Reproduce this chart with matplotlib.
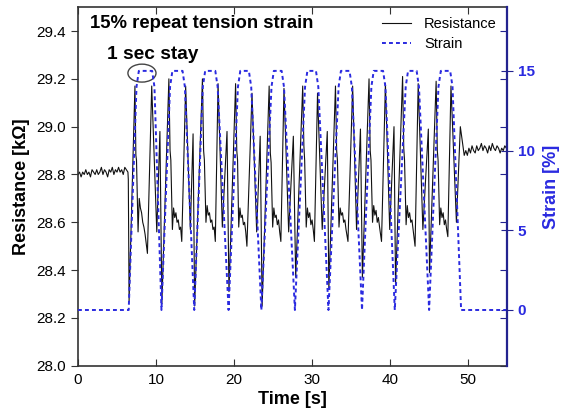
import matplotlib
matplotlib.use('Agg')
import matplotlib.pyplot as plt
from matplotlib.patches import Ellipse

plt.rcParams['font.family'] = ['Liberation Sans', 'DejaVu Sans']

# resistance trace [kOhm]
res_t = [0, 0.2, 0.4, 0.6, 0.8, 1.0, 1.2, 1.4, 1.6, 1.8, 2.0, 2.2, 2.4, 2.6, 2.8, 3.0,
         3.2, 3.4, 3.6, 3.8, 4.0, 4.2, 4.4, 4.6, 4.8, 5.0, 5.2, 5.4, 5.6, 5.8, 6.0, 6.2, 6.4,
         6.45, 6.55,
         7.3, 7.42, 7.5, 7.7, 7.85, 8.0, 8.15, 8.3, 8.45, 8.6, 8.75, 8.9, 9.45, 10.1, 10.5, 10.75,
         11.65, 11.8, 11.9, 12.1, 12.25, 12.4, 12.55, 12.7, 12.85, 13.0, 13.15, 13.3, 13.8, 14.4, 14.75, 14.95,
         15.95, 16.1, 16.2, 16.4, 16.55, 16.7, 16.85, 17.0, 17.15, 17.3, 17.45, 17.6, 17.95, 18.5, 19.1, 19.35,
         20.2, 20.35, 20.45, 20.6, 20.75, 20.9, 21.05, 21.2, 21.35, 21.5, 21.65, 22.3, 22.9, 23.35, 23.6,
         24.5, 24.65, 24.75, 24.95, 25.1, 25.25, 25.4, 25.55, 25.7, 25.85, 26.0, 26.4, 27.0, 27.6, 27.9,
         28.8, 28.95, 29.05, 29.25, 29.4, 29.55, 29.7, 29.85, 30.0, 30.15, 30.3, 30.7, 31.3, 31.95, 32.15,
         33.0, 33.15, 33.25, 33.45, 33.6, 33.75, 33.9, 34.05, 34.2, 34.35, 34.6, 35.2, 35.7, 36.2, 36.45,
         37.3, 37.45, 37.55, 37.75, 37.9, 38.05, 38.2, 38.35, 38.5, 38.65, 38.9, 39.4, 39.95, 40.5, 40.7,
         41.6, 41.75, 41.85, 42.05, 42.2, 42.35, 42.5, 42.65, 42.8, 42.95, 43.2, 43.6, 44.2, 44.9, 45.05,
         45.9, 46.05, 46.15, 46.35, 46.5, 46.65, 46.8, 46.95, 47.1, 47.25, 47.4, 47.8, 48.5, 49.0, 49.5,
         49.7, 49.9, 50.1, 50.3, 50.5, 50.7, 50.9, 51.1, 51.3, 51.5, 51.7, 51.9, 52.1, 52.3, 52.5,
         52.7, 52.9, 53.1, 53.3, 53.5, 53.7, 53.9, 54.1, 54.3, 54.5, 54.7, 54.9]
res_v = [28.80, 28.81, 28.79, 28.81, 28.80, 28.82, 28.80, 28.81, 28.79, 28.82, 28.81, 28.80, 28.82,
         28.80, 28.81, 28.83, 28.80, 28.82, 28.81, 28.79, 28.82, 28.81, 28.83, 28.80, 28.82, 28.81,
         28.83, 28.81, 28.82, 28.80, 28.83, 28.82, 28.81,
         28.78, 28.27,
         29.17, 28.88, 28.86, 28.56, 28.70, 28.66, 28.64, 28.60, 28.58, 28.55, 28.51, 28.47, 29.17, 28.56, 28.98, 28.26,
         29.20, 28.90, 28.86, 28.57, 28.66, 28.62, 28.64, 28.60, 28.61, 28.57, 28.58, 28.52, 29.17, 28.57, 28.97, 28.25,
         29.20, 28.90, 28.86, 28.60, 28.67, 28.63, 28.64, 28.60, 28.61, 28.57, 28.58, 28.52, 29.18, 28.58, 28.98, 28.31,
         29.18, 28.90, 28.86, 28.58, 28.66, 28.62, 28.63, 28.59, 28.60, 28.56, 28.50, 29.14, 28.56, 28.96, 28.25,
         29.17, 28.89, 28.85, 28.58, 28.66, 28.62, 28.63, 28.59, 28.61, 28.56, 28.52, 29.16, 28.56, 28.96, 28.37,
         29.17, 28.92, 28.86, 28.58, 28.66, 28.62, 28.64, 28.59, 28.61, 28.57, 28.52, 29.14, 28.57, 28.98, 28.32,
         29.17, 28.90, 28.86, 28.58, 28.66, 28.63, 28.64, 28.60, 28.61, 28.57, 28.52, 29.17, 28.57, 28.99, 28.37,
         29.20, 28.90, 28.86, 28.60, 28.67, 28.63, 28.65, 28.60, 28.62, 28.58, 28.52, 29.18, 28.57, 29.00, 28.34,
         29.21, 28.91, 28.86, 28.59, 28.67, 28.62, 28.64, 28.60, 28.61, 28.57, 28.50, 29.18, 28.57, 28.99, 28.39,
         29.19, 28.90, 28.86, 28.59, 28.66, 28.62, 28.64, 28.59, 28.61, 28.57, 28.54, 29.17, 28.60, 29.00, 28.88,
         28.90, 28.88, 28.91, 28.89, 28.92, 28.90, 28.89, 28.92, 28.90, 28.91, 28.93, 28.90, 28.92, 28.91,
         28.89, 28.92, 28.90, 28.93, 28.91, 28.90, 28.92, 28.91, 28.89, 28.91, 28.90, 28.92, 28.91]

# applied strain [%]
strain_t = [0, 6.5, 7.5, 7.8, 9.5, 9.8, 10.7, 11.8, 12.1, 13.4, 13.7, 14.9, 16.0, 16.3, 17.6, 17.9,
            19.3, 20.5, 20.8, 21.9, 22.2, 23.5, 24.8, 25.1, 26.1, 26.4, 27.8, 29.1, 29.4, 30.5, 30.8,
            32.1, 33.4, 33.7, 34.8, 35.1, 36.4, 37.6, 37.9, 39.1, 39.4, 40.6, 42.0, 42.3, 43.4, 43.7,
            45.0, 46.2, 46.5, 47.7, 48.0, 49.1, 55]
strain_v = [0, 0, 14, 15, 15, 14, 0, 14, 15, 15, 14, 0, 14, 15, 15, 14,
            0, 14, 15, 15, 14, 0, 14, 15, 15, 14, 0, 14, 15, 15, 14,
            0, 14, 15, 15, 14, 0, 14, 15, 15, 14, 0, 14, 15, 15, 14,
            0, 14, 15, 15, 14, 0, 0]

blue = '#2a2ae0'
navy = '#23238f'

fig = plt.figure(figsize=(5.61, 4.19), dpi=100)
ax1 = fig.add_axes([0.139, 0.127, 0.765, 0.856])
ax2 = ax1.twinx()

l1, = ax1.plot(res_t, res_v, color='#111111', lw=0.8, label='Resistance')
l2, = ax2.plot(strain_t, strain_v, color=blue, lw=1.4, ls=(0, (2.0, 1.6)), label='Strain')

ax1.set_xlim(0, 55)
ax1.set_ylim(28.0, 29.5)
ax2.set_ylim(-3.5, 19)
ax1.set_xticks([0, 10, 20, 30, 40, 50])
ax1.set_yticks([28.0, 28.2, 28.4, 28.6, 28.8, 29.0, 29.2, 29.4])
ax1.set_yticklabels(['28.0', '28.2', '28.4', '28.6', '28.8', '29.0', '29.2', '29.4'])
ax2.set_yticks([0, 5, 10, 15])

ax1.tick_params(axis='x', direction='in', top=True, labelsize=11, length=5, color='#333333', pad=5)
ax1.tick_params(axis='y', direction='out', labelsize=11, length=5, color='#333333')
sec = ax1.secondary_yaxis('right', functions=(lambda v: v, lambda v: v))
sec.set_yticks([28.0, 28.2, 28.4, 28.6, 28.8, 29.0, 29.2, 29.4])
sec.tick_params(direction='in', labelright=False, length=5, color=navy)
sec.spines['right'].set_visible(False)

ax2.tick_params(axis='y', direction='inout', length=8, colors=blue, labelsize=11, color=navy)
for lab in ax2.get_yticklabels():
    lab.set_fontweight('bold')

for s in ['left', 'bottom', 'top']:
    ax1.spines[s].set_color('#333333')
    ax1.spines[s].set_linewidth(1.2)
ax2.spines['right'].set_color(navy)
ax2.spines['right'].set_linewidth(1.6)
ax1.spines['right'].set_visible(False)
ax2.spines['left'].set_visible(False)
ax2.spines['top'].set_visible(False)
ax2.spines['bottom'].set_visible(False)

ax1.set_xlabel('Time [s]', fontsize=13, fontweight='bold', labelpad=3)
ax1.set_ylabel('Resistance [kΩ]', fontsize=13, fontweight='bold', labelpad=5)
ax2.set_ylabel('Strain [%]', fontsize=13, fontweight='bold', color=blue, labelpad=6)

ax1.text(1.5, 29.43, '15% repeat tension strain', fontsize=13.3, fontweight='bold', va='center')
ax1.text(3.7, 29.30, '1 sec stay', fontsize=13.8, fontweight='bold', va='center')
ax1.add_patch(Ellipse((8.2, 29.224), 3.6, 0.075, fill=False, ec='#444444', lw=1))

ax1.legend([l1, l2], ['Resistance', 'Strain'], loc='upper right', frameon=False,
           fontsize=10.5, handlelength=2.0, handletextpad=0.9,
           borderaxespad=0.3, labelspacing=0.4)

fig.savefig('out.png', dpi=100)
